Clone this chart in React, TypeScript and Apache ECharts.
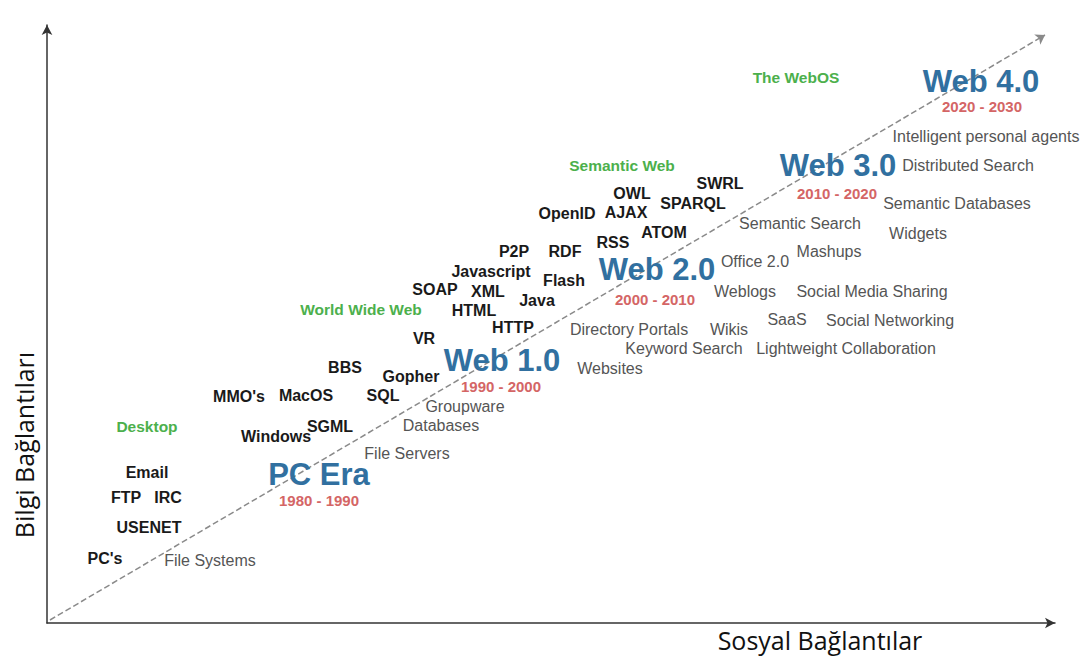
import React, { useEffect, useRef } from "react";
import * as echarts from "echarts";

// Data coordinates (x: social connections, y: information connections)
const techTerms: [string, number, number][] = [
  ["Email", 100, 151], ["FTP", 79, 126], ["IRC", 121, 126], ["USENET", 102, 96], ["PC's", 58, 65],
  ["MMO's", 192, 227], ["MacOS", 259, 228], ["Windows", 229, 187], ["SGML", 283, 197], ["BBS", 298, 256],
  ["SQL", 336, 228], ["Gopher", 364, 247], ["VR", 377, 285], ["SOAP", 388, 334], ["XML", 441, 332],
  ["HTML", 427, 313], ["Javascript", 444, 352], ["P2P", 467, 372], ["RDF", 518, 372], ["Flash", 517, 343],
  ["Java", 490, 323], ["HTTP", 466, 296], ["OpenID", 520, 410], ["AJAX", 579, 411], ["OWL", 585, 430],
  ["SPARQL", 646, 420], ["SWRL", 673, 440], ["RSS", 566, 381], ["ATOM", 617, 391],
];
const applications: [string, number, number][] = [
  ["File Systems", 163, 63], ["File Servers", 360, 170], ["Databases", 394, 198], ["Groupware", 418, 217],
  ["Websites", 563, 255], ["Directory Portals", 582, 294], ["Wikis", 682, 294], ["Keyword Search", 637, 275],
  ["Office 2.0", 708, 362], ["Weblogs", 698, 332], ["Semantic Search", 753, 400], ["Mashups", 782, 372],
  ["Social Media Sharing", 825, 332], ["SaaS", 740, 304], ["Social Networking", 843, 303],
  ["Lightweight Collaboration", 799, 275], ["Distributed Search", 921, 458], ["Semantic Databases", 910, 420],
  ["Widgets", 871, 390], ["Intelligent personal agents", 939, 487],
];
const paradigms: [string, number, number][] = [
  ["Desktop", 100, 197], ["World Wide Web", 314, 314], ["Semantic Web", 575, 458], ["The WebOS", 749, 546],
];
const eras: [string, number, number][] = [
  ["PC Era", 272, 149], ["Web 1.0", 455, 263], ["Web 2.0", 610, 354], ["Web 3.0", 791, 458], ["Web 4.0", 934, 542],
];
const periods: [string, number, number][] = [
  ["1980 - 1990", 272, 123], ["1990 - 2000", 454, 237], ["2000 - 2010", 608, 324],
  ["2010 - 2020", 790, 430], ["2020 - 2030", 935, 517],
];
const trendStart: [number, number] = [3, 3];
const trendEnd: [number, number] = [998, 588];
const xTitle = "Sosyal Bağlantılar";
const yTitle = "Bilgi Bağlantıları";

const sans = "'Liberation Sans', Arial, sans-serif";
const titleFont = "'Open Sans', 'Noto Sans', sans-serif";

function textSeries(
  name: string,
  items: [string, number, number][],
  color: string,
  size: number,
  weight: string
) {
  return {
    name,
    type: "scatter",
    symbolSize: 1,
    itemStyle: { color: "rgba(0,0,0,0)", opacity: 1 },
    silent: true,
    data: items.map(([n, x, y]) => ({ name: n, value: [x, y] })),
    label: {
      show: true,
      position: "inside",
      formatter: (p: any) => p.name,
      color,
      fontSize: size,
      fontWeight: weight,
      fontFamily: sans,
      textBorderWidth: 0,
      textBorderColor: "transparent",
    },
    z: 5,
  };
}

export default function App() {
  const ref = useRef<HTMLDivElement>(null);
  useEffect(() => {
    document.body.style.margin = "0";
    const chart = echarts.init(ref.current!, null, { renderer: "svg" });
    chart.setOption({
      animation: false,
      backgroundColor: "#ffffff",
      grid: { left: 47, right: 31, top: 25, bottom: 39 },
      xAxis: {
        type: "value",
        min: 0,
        max: 1008,
        axisLine: { show: true, symbol: ["none", "arrow"], symbolSize: [8, 10], lineStyle: { color: "#333", width: 1.5 } },
        axisTick: { show: false },
        axisLabel: { show: false },
        splitLine: { show: false },
      },
      yAxis: {
        type: "value",
        min: 0,
        max: 598,
        axisLine: { show: true, symbol: ["none", "arrow"], symbolSize: [8, 10], lineStyle: { color: "#333", width: 1.5 } },
        axisTick: { show: false },
        axisLabel: { show: false },
        splitLine: { show: false },
      },
      graphic: [
        {
          type: "text",
          x: 820,
          y: 640,
          style: {
            text: xTitle,
            fontSize: 25,
            fontFamily: titleFont,
            fill: "#111",
            align: "center",
            verticalAlign: "middle",
          },
        },
        {
          type: "text",
          x: 24,
          y: 445,
          rotation: Math.PI / 2,
          style: {
            text: yTitle,
            fontSize: 25,
            fontFamily: titleFont,
            fill: "#111",
            align: "center",
            verticalAlign: "middle",
          },
        },
      ],
      series: [
        {
          type: "line",
          data: [],
          silent: true,
          markLine: {
            silent: true,
            symbol: ["none", "arrow"],
            symbolSize: 9,
            label: { show: false },
            lineStyle: { type: "dashed", color: "#8a8a8a", width: 1.5 },
            data: [[{ coord: trendStart }, { coord: trendEnd }]],
          },
        },
        textSeries("terms", techTerms, "#1a1a1a", 16, "bold"),
        textSeries("apps", applications, "#555555", 16, "normal"),
        textSeries("paradigms", paradigms, "#4cb04c", 15.5, "bold"),
        textSeries("eras", eras, "#3170a0", 31, "bold"),
        textSeries("periods", periods, "#d46565", 15, "bold"),
      ],
    });
    return () => chart.dispose();
  }, []);
  return <div ref={ref} style={{ width: 1086, height: 662 }} />;
}
